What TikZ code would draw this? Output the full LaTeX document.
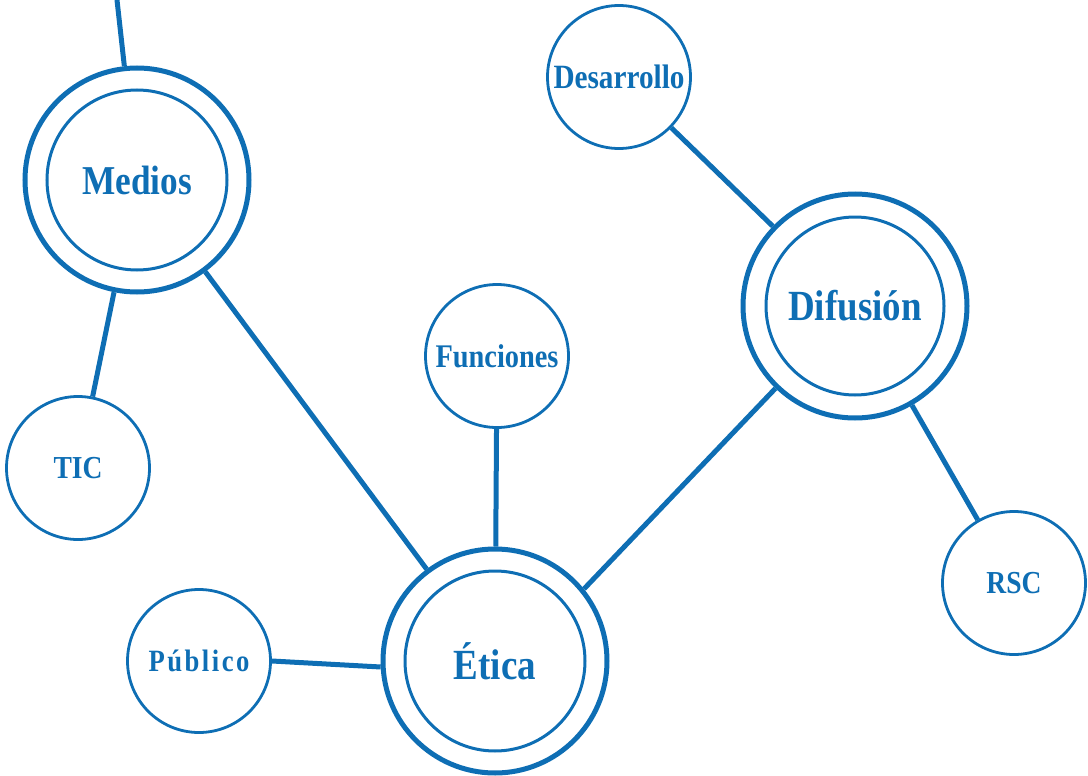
\documentclass[tikz,border=0pt]{standalone}
\usepackage{fontspec}
\newfontfamily\labfont{Liberation Serif}[FakeStretch=0.86]
\definecolor{azul}{RGB}{14,110,180}
\begin{document}
\begin{tikzpicture}[x=1pt,y=-1pt,
  every node/.style={text=azul},
  lab/.style={font=\labfont\bfseries\fontsize{#1}{#1}\selectfont},
  big/.style={circle, draw=azul, line width=5pt, minimum size=224pt, inner sep=0pt},
  small/.style={circle, draw=azul, line width=2.8pt, minimum size=143pt, inner sep=0pt},
  ring/.style={draw=azul, line width=3pt},
  link/.style={draw=azul, line width=5pt}]
\useasboundingbox (0,0) rectangle (1088,776);
% nodes
\node[big, lab=41] (Medios) at (137,180) {Medios};
\node[big, lab=43] (Difusion) at (855,306) {Difusión};
\node[big, lab=43] (Etica) at (495,661) {Ética};
\node[small, lab=34] (Desarrollo) at (619,77) {Desarrollo};
\node[small, lab=33] (Funciones) at (497,356) {Funciones};
\node[small, lab=32] (TIC) at (78,468) {TIC};
\node[small, lab=32] (RSC) at (1014,583) {RSC};
\node[small, lab=31] (Publico) at (199,661) {\addfontfeatures{LetterSpace=8}Público};
\coordinate (top) at (117,0);
% inner rings
\draw[ring] (Medios.center) circle[radius=90pt];
\draw[ring] (Difusion.center) circle[radius=89pt];
\draw[ring] (Etica.center) circle[radius=90pt];
% connectors
\draw[link] (top) -- (Medios);
\draw[link] (Medios) -- (TIC);
\draw[link] (Medios) -- (Etica);
\draw[link] (Funciones) -- (Etica);
\draw[link] (Publico.0) -- (Etica.183);
\draw[link] (Difusion.226) -- (Etica.39);
\draw[link] (Desarrollo) -- (Difusion);
\draw[link] (Difusion) -- (RSC);
\end{tikzpicture}
\end{document}
